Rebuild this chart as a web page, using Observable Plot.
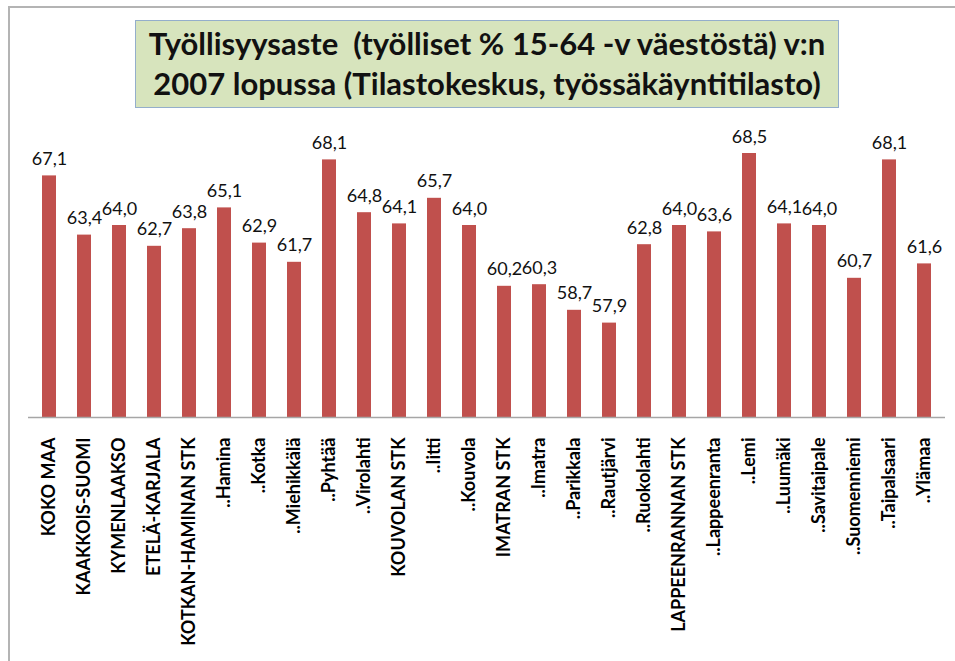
<!DOCTYPE html>
<html>
<head>
<meta charset="utf-8">
<script src="https://cdn.jsdelivr.net/npm/d3@7"></script>
<script src="https://cdn.jsdelivr.net/npm/@observablehq/plot@0.6"></script>
<style>
  html, body { margin: 0; padding: 0; background: #fff; overflow: hidden; }
  #wrap { position: relative; width: 955px; height: 661px; overflow: hidden; font-family: Lato, "Open Sans", sans-serif; }
  #frame { position: absolute; left: 8px; top: 6px; width: 1000px; height: 700px; border: 2px solid #b4b4b4; box-sizing: border-box; }
  #titlebox { position: absolute; left: 135px; top: 20px; width: 704px; height: 88px; box-sizing: border-box;
    background: #d7e4bd; border: 1.5px solid #94aecb; text-align: center; font-weight: bold; font-size: 31px;
    line-height: 40px; color: #111; padding-top: 2px; white-space: pre; }
  #chart { position: absolute; left: 0; top: 115px; }
</style>
</head>
<body>
<div id="wrap">
  <div id="frame"></div>
  <div id="titlebox"></div>
  <div id="chart"></div>
</div>
<script>
const titleLines = ["Työllisyysaste  (työlliset % 15-64 -v väestöstä) v:n", "2007 lopussa (Tilastokeskus, työssäkäyntitilasto)"];
const categories = ["KOKO MAA","KAAKKOIS-SUOMI","KYMENLAAKSO","ETELÄ-KARJALA","KOTKAN-HAMINAN STK","..Hamina","..Kotka","..Miehikkälä","..Pyhtää","..Virolahti","KOUVOLAN STK","..Iitti","..Kouvola","IMATRAN STK","..Imatra","..Parikkala","..Rautjärvi","..Ruokolahti","LAPPEENRANNAN STK","..Lappeenranta","..Lemi","..Luumäki","..Savitaipale","..Suomenniemi","..Taipalsaari","..Ylämaa"];
const values = [67.1,63.4,64.0,62.7,63.8,65.1,62.9,61.7,68.1,64.8,64.1,65.7,64.0,60.2,60.3,58.7,57.9,62.8,64.0,63.6,68.5,64.1,64.0,60.7,68.1,61.6];
const yDomain = [52, 70];

const tb = document.getElementById("titlebox");
titleLines.forEach(t => { const d = document.createElement("div"); d.textContent = t; tb.appendChild(d); });

const data = categories.map((c, i) => ({category: c, value: values[i]}));
const fmt = v => d3.format(".1f")(v).replace(".", ",");

const chart = Plot.plot({
  width: 955,
  height: 546,
  marginLeft: 29,
  marginRight: 11,
  marginTop: 14,
  marginBottom: 244,
  style: {fontFamily: "Lato, 'Open Sans', sans-serif", background: "transparent", overflow: "visible"},
  x: {domain: categories, paddingInner: 0.6, paddingOuter: 0.3, label: null},
  y: {domain: yDomain, axis: null},
  marks: [
    Plot.barY(data, {x: "category", y1: yDomain[0], y2: "value", fill: "#c0504d"}),
    Plot.ruleY([yDomain[0]], {stroke: "#a6a6a6", strokeWidth: 1.5, insetLeft: -1, insetRight: -1}),
    Plot.text(data, {x: "category", y: "value", text: d => fmt(d.value), dy: -11, lineAnchor: "bottom", fontSize: 18, fill: "#111"}),
    Plot.axisX({tickRotate: -90, tickSize: 0, tickPadding: 20, fontSize: 18, fontWeight: "bold", fill: "#000", label: null})
  ]
});
document.getElementById("chart").appendChild(chart);
</script>
</body>
</html>
